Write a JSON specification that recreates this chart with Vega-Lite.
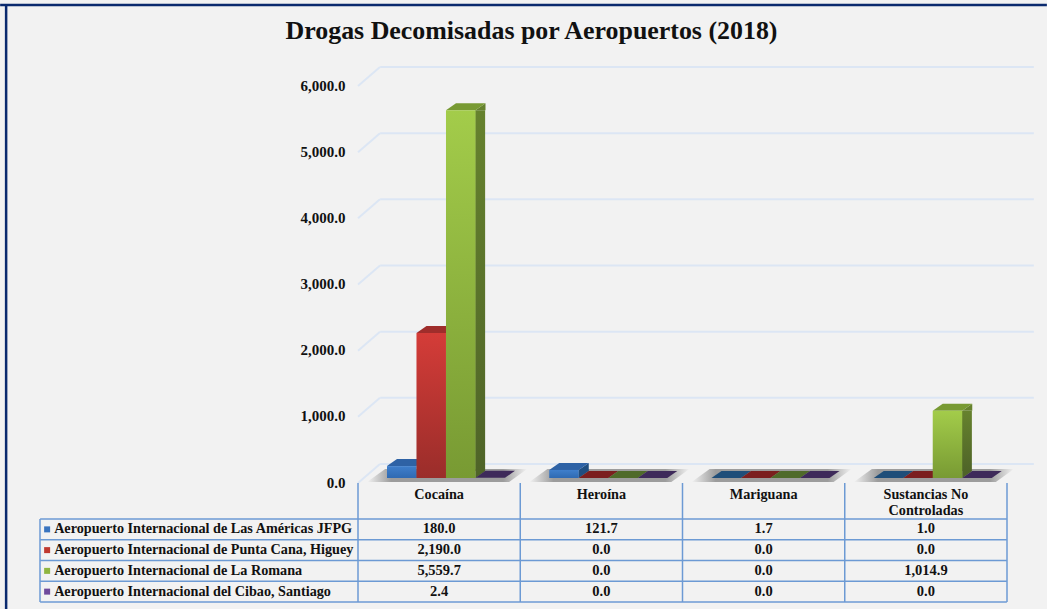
{
"$schema":"https://vega.github.io/schema/vega-lite/v6.json",
"width":1047,"height":609,"padding":0,"autosize":{"type":"none"},
"background":"#f2f2f2",
"config":{"view":{"stroke":null},"text":{"font":"Liberation Serif"}},
"title":{"text":"Drogas Decomisadas por Aeropuertos (2018)","font":"Liberation Serif","fontSize":25.9,"fontWeight":"bold","color":"#111111","anchor":"middle","dx":8,"dy":49},
"datasets":{
"drogas":[
{"cat":"Cocaína","serie":"Aeropuerto Internacional de Las Américas JFPG","value":180.0},
{"cat":"Heroína","serie":"Aeropuerto Internacional de Las Américas JFPG","value":121.7},
{"cat":"Mariguana","serie":"Aeropuerto Internacional de Las Américas JFPG","value":1.7},
{"cat":"Sustancias No Controladas","serie":"Aeropuerto Internacional de Las Américas JFPG","value":1.0},
{"cat":"Cocaína","serie":"Aeropuerto Internacional de Punta Cana, Higuey","value":2190.0},
{"cat":"Heroína","serie":"Aeropuerto Internacional de Punta Cana, Higuey","value":0.0},
{"cat":"Mariguana","serie":"Aeropuerto Internacional de Punta Cana, Higuey","value":0.0},
{"cat":"Sustancias No Controladas","serie":"Aeropuerto Internacional de Punta Cana, Higuey","value":0.0},
{"cat":"Cocaína","serie":"Aeropuerto Internacional de La Romana","value":5559.7},
{"cat":"Heroína","serie":"Aeropuerto Internacional de La Romana","value":0.0},
{"cat":"Mariguana","serie":"Aeropuerto Internacional de La Romana","value":0.0},
{"cat":"Sustancias No Controladas","serie":"Aeropuerto Internacional de La Romana","value":1014.9},
{"cat":"Cocaína","serie":"Aeropuerto Internacional del Cibao, Santiago","value":2.4},
{"cat":"Heroína","serie":"Aeropuerto Internacional del Cibao, Santiago","value":0.0},
{"cat":"Mariguana","serie":"Aeropuerto Internacional del Cibao, Santiago","value":0.0},
{"cat":"Sustancias No Controladas","serie":"Aeropuerto Internacional del Cibao, Santiago","value":0.0}
],
"ticks":[{"v":0},{"v":1000},{"v":2000},{"v":3000},{"v":4000},{"v":5000},{"v":6000}],
"cols":[{"cat":"Cocaína","label":"Cocaína"},{"cat":"Heroína","label":"Heroína"},{"cat":"Mariguana","label":"Mariguana"},{"cat":"Sustancias No Controladas","label":"Sustancias No\nControladas"}],
"rows":[{"serie":"Aeropuerto Internacional de Las Américas JFPG"},{"serie":"Aeropuerto Internacional de Punta Cana, Higuey"},{"serie":"Aeropuerto Internacional de La Romana"},{"serie":"Aeropuerto Internacional del Cibao, Santiago"}]
},
"resolve":{"scale":{"y":"independent","fill":"independent"}},
"layer":[
{"data":{"name":"ticks"},"mark":{"type":"rule","stroke":"#dce6f4","strokeWidth":2,"xOffset":-59,"x2Offset":108,"yOffset":-14},
 "encoding":{"x":{"datum":"Cocaína","type":"nominal","axis":null,"scale":{"domain":["Cocaína","Heroína","Mariguana","Sustancias No Controladas"],"range":[358,1007],"paddingInner":0,"paddingOuter":0}},"x2":{"datum":"Sustancias No Controladas"},
 "y":{"field":"v","type":"quantitative","scale":{"domain":[0,6000],"range":[478,81],"nice":false,"zero":false},"axis":{"values":[0,1000,2000,3000,4000,5000,6000],"format":",.1f","title":null,"domain":false,"ticks":false,"grid":false,"offset":-345,"labelPadding":0,"labelOffset":4,"labelFont":"Liberation Serif","labelFontSize":15,"labelFontWeight":"bold","labelColor":"#111111"}}}},
{"data":{"name":"ticks"},"mark":{"type":"point","shape":"M0,5L22,-14","size":4,"filled":false,"stroke":"#dce6f4","strokeWidth":2,"opacity":1},
 "encoding":{"x":{"datum":"Cocaína","type":"nominal","bandPosition":0,"axis":null},
 "y":{"field":"v","type":"quantitative","scale":{"domain":[0,6000],"range":[478,81],"nice":false,"zero":false},"axis":null}}},
{"data":{"name":"cols"},"mark":{"type":"point","filled":true,"size":4,"opacity":1,"shape":"M-72,4L70,4L88,-9L-54,-9Z","fill":{"gradient":"linear","x1":0,"y1":0,"x2":1,"y2":0,"stops":[{"offset":0,"color":"#f2f2f2"},{"offset":0.15,"color":"#9c9c9c"},{"offset":0.85,"color":"#9c9c9c"},{"offset":1,"color":"#f2f2f2"}]}},
 "encoding":{"x":{"field":"cat","type":"nominal","axis":null},"y":{"datum":0,"type":"quantitative","scale":{"domain":[0,6000],"range":[478,81],"nice":false,"zero":false},"axis":null}}},
{"data":{"name":"drogas"},"transform":[{"filter":"datum.value>=50 && datum.serie==='Aeropuerto Internacional de Las Américas JFPG'"}],"mark":{"type":"bar","width":10,"xOffset":-17.5,"y2Offset":-7,"stroke":null,"fill":"#1f4e80"},
 "encoding":{"x":{"field":"cat","type":"nominal","axis":null},
 "y":{"field":"value","type":"quantitative","stack":null,"scale":{"domain":[0,6000],"range":[478,81],"nice":false,"zero":false},"axis":null},"y2":{"datum":0}}},
{"data":{"name":"drogas"},"transform":[{"filter":"datum.value>=50 && datum.serie==='Aeropuerto Internacional de Punta Cana, Higuey'"}],"mark":{"type":"bar","width":10,"xOffset":12,"y2Offset":-7,"stroke":null,"fill":"#7e2625"},
 "encoding":{"x":{"field":"cat","type":"nominal","axis":null},
 "y":{"field":"value","type":"quantitative","stack":null,"scale":{"domain":[0,6000],"range":[478,81],"nice":false,"zero":false},"axis":null},"y2":{"datum":0}}},
{"data":{"name":"drogas"},"transform":[{"filter":"datum.value>=50 && datum.serie==='Aeropuerto Internacional de La Romana'"}],"mark":{"type":"bar","width":10,"xOffset":41,"y2Offset":-7,"stroke":null,"fill":{"gradient":"linear","x1":0,"y1":0,"x2":0,"y2":1,"stops":[{"offset":0,"color":"#66822e"},{"offset":1,"color":"#4f6428"}]}},
 "encoding":{"x":{"field":"cat","type":"nominal","axis":null},
 "y":{"field":"value","type":"quantitative","stack":null,"scale":{"domain":[0,6000],"range":[478,81],"nice":false,"zero":false},"axis":null},"y2":{"datum":0}}},
{"data":{"name":"drogas"},"transform":[{"filter":"datum.value>=50"}],"mark":{"type":"point","filled":true,"size":4,"opacity":1,"shape":"M14.75,0L24.75,-7L24.75,0Z"},
 "encoding":{"x":{"field":"cat","type":"nominal","axis":null},"xOffset":{"field":"serie","type":"nominal","scale":{"domain":["Aeropuerto Internacional de Las Américas JFPG","Aeropuerto Internacional de Punta Cana, Higuey","Aeropuerto Internacional de La Romana","Aeropuerto Internacional del Cibao, Santiago"],"paddingInner":0,"paddingOuter":0.75,"align":0.655}},
 "y":{"field":"value","type":"quantitative","scale":{"domain":[0,6000],"range":[478,81],"nice":false,"zero":false},"axis":null},
 "fill":{"field":"serie","type":"nominal","legend":null,"scale":{"domain":["Aeropuerto Internacional de Las Américas JFPG","Aeropuerto Internacional de Punta Cana, Higuey","Aeropuerto Internacional de La Romana","Aeropuerto Internacional del Cibao, Santiago"],"range":["#1f4e80","#7e2625","#66822e","#4a3468"]}}}},
{"data":{"name":"drogas"},"transform":[{"filter":"datum.value>=50"}],"mark":{"type":"point","filled":true,"size":4,"opacity":1,"shape":"M14.75,0L14.75,-7L24.75,-7Z"},
 "encoding":{"x":{"field":"cat","type":"nominal","axis":null},"xOffset":{"field":"serie","type":"nominal"},
 "y":{"datum":0,"type":"quantitative","scale":{"domain":[0,6000],"range":[478,81],"nice":false,"zero":false},"axis":null},
 "fill":{"field":"serie","type":"nominal","legend":null,"scale":{"domain":["Aeropuerto Internacional de Las Américas JFPG","Aeropuerto Internacional de Punta Cana, Higuey","Aeropuerto Internacional de La Romana","Aeropuerto Internacional del Cibao, Santiago"],"range":["#1f4e80","#6e2020","#4f6428","#3a2a55"]}}}},
{"data":{"name":"drogas"},"transform":[{"filter":"datum.value<50"}],"mark":{"type":"point","filled":true,"size":4,"opacity":1,"shape":"M-14.75,0L14.75,0L24.75,-7L-4.75,-7Z"},
 "encoding":{"x":{"field":"cat","type":"nominal","axis":null},"xOffset":{"field":"serie","type":"nominal"},
 "y":{"field":"value","type":"quantitative","scale":{"domain":[0,6000],"range":[478,81],"nice":false,"zero":false},"axis":null},
 "fill":{"field":"serie","type":"nominal","legend":null,"scale":{"domain":["Aeropuerto Internacional de Las Américas JFPG","Aeropuerto Internacional de Punta Cana, Higuey","Aeropuerto Internacional de La Romana","Aeropuerto Internacional del Cibao, Santiago"],"range":["#1f4e79","#7b1f1f","#4f6a2a","#3e2a5a"]}}}},
{"data":{"name":"drogas"},"transform":[{"filter":"datum.value>=50"}],"mark":{"type":"point","filled":true,"size":4,"opacity":1,"shape":"M-14.75,0L14.75,0L24.75,-7L-4.75,-7Z"},
 "encoding":{"x":{"field":"cat","type":"nominal","axis":null},"xOffset":{"field":"serie","type":"nominal"},
 "y":{"field":"value","type":"quantitative","scale":{"domain":[0,6000],"range":[478,81],"nice":false,"zero":false},"axis":null},
 "fill":{"field":"serie","type":"nominal","legend":null,"scale":{"domain":["Aeropuerto Internacional de Las Américas JFPG","Aeropuerto Internacional de Punta Cana, Higuey","Aeropuerto Internacional de La Romana","Aeropuerto Internacional del Cibao, Santiago"],"range":["#2e62a5","#9f2d2b","#789a33","#4a3468"]}}}},
{"data":{"name":"drogas"},"transform":[{"filter":"datum.value>=50 && datum.serie==='Aeropuerto Internacional de Las Américas JFPG'"}],"mark":{"type":"bar","stroke":null,"fill":{"gradient":"linear","x1":0,"y1":0,"x2":0,"y2":1,"stops":[{"offset":0,"color":"#3f7fcc"},{"offset":1,"color":"#2f6ab2"}]}},
 "encoding":{"x":{"field":"cat","type":"nominal","axis":null},"xOffset":{"field":"serie","type":"nominal"},
 "y":{"field":"value","type":"quantitative","stack":null,"scale":{"domain":[0,6000],"range":[478,81],"nice":false,"zero":false},"axis":null},"y2":{"datum":0}}},
{"data":{"name":"drogas"},"transform":[{"filter":"datum.value>=50 && datum.serie==='Aeropuerto Internacional de Punta Cana, Higuey'"}],"mark":{"type":"bar","stroke":null,"fill":{"gradient":"linear","x1":0,"y1":0,"x2":0,"y2":1,"stops":[{"offset":0,"color":"#d43c38"},{"offset":1,"color":"#9a2d2a"}]}},
 "encoding":{"x":{"field":"cat","type":"nominal","axis":null},"xOffset":{"field":"serie","type":"nominal"},
 "y":{"field":"value","type":"quantitative","stack":null,"scale":{"domain":[0,6000],"range":[478,81],"nice":false,"zero":false},"axis":null},"y2":{"datum":0}}},
{"data":{"name":"drogas"},"transform":[{"filter":"datum.value>=50 && datum.serie==='Aeropuerto Internacional de La Romana'"}],"mark":{"type":"bar","stroke":null,"fill":{"gradient":"linear","x1":0,"y1":0,"x2":0,"y2":1,"stops":[{"offset":0,"color":"#a3cc4a"},{"offset":1,"color":"#789a33"}]}},
 "encoding":{"x":{"field":"cat","type":"nominal","axis":null},"xOffset":{"field":"serie","type":"nominal"},
 "y":{"field":"value","type":"quantitative","stack":null,"scale":{"domain":[0,6000],"range":[478,81],"nice":false,"zero":false},"axis":null},"y2":{"datum":0}}},
{"data":{"name":"cols"},"mark":{"type":"rule","stroke":"#6c9ad4","strokeWidth":1.5,"yOffset":5,"y2Offset":124},
 "encoding":{"x":{"field":"cat","type":"nominal","bandPosition":0,"axis":null},"y":{"datum":0,"type":"quantitative","scale":{"domain":[0,6000],"range":[478,81],"nice":false,"zero":false},"axis":null},"y2":{"datum":0}}},
{"data":{"values":[{}]},"mark":{"type":"rule","stroke":"#6c9ad4","strokeWidth":1.5,"yOffset":5,"y2Offset":124},
 "encoding":{"x":{"datum":"Sustancias No Controladas","type":"nominal","bandPosition":1,"axis":null},"y":{"datum":0,"type":"quantitative","scale":{"domain":[0,6000],"range":[478,81],"nice":false,"zero":false},"axis":null},"y2":{"datum":0}}},
{"data":{"values":[{}]},"mark":{"type":"rule","stroke":"#6c9ad4","strokeWidth":1.5,"xOffset":-318,"yOffset":41,"y2Offset":124},
 "encoding":{"x":{"datum":"Cocaína","type":"nominal","bandPosition":0,"axis":null},"y":{"datum":0,"type":"quantitative","scale":{"domain":[0,6000],"range":[478,81],"nice":false,"zero":false},"axis":null},"y2":{"datum":0}}},
{"data":{"name":"rows"},"mark":{"type":"rule","stroke":"#6c9ad4","strokeWidth":1.5,"xOffset":-399,"x2Offset":81},
 "encoding":{"x":{"datum":"Cocaína","type":"nominal","axis":null},"x2":{"datum":"Sustancias No Controladas"},
 "y":{"field":"serie","type":"nominal","bandPosition":0,"axis":null,"scale":{"domain":["Aeropuerto Internacional de Las Américas JFPG","Aeropuerto Internacional de Punta Cana, Higuey","Aeropuerto Internacional de La Romana","Aeropuerto Internacional del Cibao, Santiago"],"range":[519,602],"paddingInner":0,"paddingOuter":0}}}},
{"data":{"name":"rows"},"transform":[{"filter":"datum.serie==='Aeropuerto Internacional del Cibao, Santiago'"}],"mark":{"type":"rule","stroke":"#6c9ad4","strokeWidth":1.5,"xOffset":-399,"x2Offset":81},
 "encoding":{"x":{"datum":"Cocaína","type":"nominal","axis":null},"x2":{"datum":"Sustancias No Controladas"},
 "y":{"field":"serie","type":"nominal","bandPosition":1,"axis":null,"scale":{"domain":["Aeropuerto Internacional de Las Américas JFPG","Aeropuerto Internacional de Punta Cana, Higuey","Aeropuerto Internacional de La Romana","Aeropuerto Internacional del Cibao, Santiago"],"range":[519,602],"paddingInner":0,"paddingOuter":0}}}},
{"data":{"name":"cols"},"mark":{"type":"text","font":"Liberation Serif","fontSize":14.2,"fontWeight":"bold","color":"#111111","lineBreak":"\n","lineHeight":16,"baseline":"alphabetic","align":"center","yOffset":21},
 "encoding":{"x":{"field":"cat","type":"nominal","axis":null},"y":{"datum":0,"type":"quantitative","scale":{"domain":[0,6000],"range":[478,81],"nice":false,"zero":false},"axis":null},"text":{"field":"label"}}},
{"data":{"name":"drogas"},"mark":{"type":"text","font":"Liberation Serif","fontSize":14.5,"fontWeight":"bold","color":"#111111","align":"center","baseline":"middle"},
 "encoding":{"x":{"field":"cat","type":"nominal","axis":null},
 "y":{"field":"serie","type":"nominal","axis":null,"scale":{"domain":["Aeropuerto Internacional de Las Américas JFPG","Aeropuerto Internacional de Punta Cana, Higuey","Aeropuerto Internacional de La Romana","Aeropuerto Internacional del Cibao, Santiago"],"range":[519,602],"paddingInner":0,"paddingOuter":0}},
 "text":{"field":"value","type":"quantitative","format":",.1f"}}},
{"data":{"name":"rows"},"mark":{"type":"text","font":"Liberation Serif","fontSize":14.2,"fontWeight":"bold","color":"#111111","align":"left","baseline":"middle","dx":-385},
 "encoding":{"x":{"datum":"Cocaína","type":"nominal","axis":null},
 "y":{"field":"serie","type":"nominal","axis":null,"scale":{"domain":["Aeropuerto Internacional de Las Américas JFPG","Aeropuerto Internacional de Punta Cana, Higuey","Aeropuerto Internacional de La Romana","Aeropuerto Internacional del Cibao, Santiago"],"range":[519,602],"paddingInner":0,"paddingOuter":0}},
 "text":{"field":"serie"}}},
{"data":{"name":"rows"},"mark":{"type":"point","shape":"square","filled":true,"size":36,"opacity":1,"xOffset":-392},
 "encoding":{"x":{"datum":"Cocaína","type":"nominal","axis":null},
 "y":{"field":"serie","type":"nominal","axis":null,"scale":{"domain":["Aeropuerto Internacional de Las Américas JFPG","Aeropuerto Internacional de Punta Cana, Higuey","Aeropuerto Internacional de La Romana","Aeropuerto Internacional del Cibao, Santiago"],"range":[519,602],"paddingInner":0,"paddingOuter":0}},
 "fill":{"field":"serie","type":"nominal","legend":null,"scale":{"domain":["Aeropuerto Internacional de Las Américas JFPG","Aeropuerto Internacional de Punta Cana, Higuey","Aeropuerto Internacional de La Romana","Aeropuerto Internacional del Cibao, Santiago"],"range":["#3a74bf","#c0392f","#8fb540","#6f4a9c"]}}}},
{"data":{"values":[{}]},"mark":{"type":"rule","stroke":"#0a2a6e","strokeWidth":2.5,"xOffset":-439,"x2Offset":121,"yOffset":-76},
 "encoding":{"x":{"datum":"Cocaína","type":"nominal","axis":null},"x2":{"datum":"Sustancias No Controladas"},"y":{"datum":6000,"type":"quantitative","scale":{"domain":[0,6000],"range":[478,81],"nice":false,"zero":false},"axis":null}}},
{"data":{"values":[{}]},"mark":{"type":"rule","stroke":"#0a2a6e","strokeWidth":2.5,"xOffset":-433,"yOffset":-76,"y2Offset":131},
 "encoding":{"x":{"datum":"Cocaína","type":"nominal","axis":null},"y":{"datum":6000,"type":"quantitative","scale":{"domain":[0,6000],"range":[478,81],"nice":false,"zero":false},"axis":null},"y2":{"datum":0}}}
]
}
